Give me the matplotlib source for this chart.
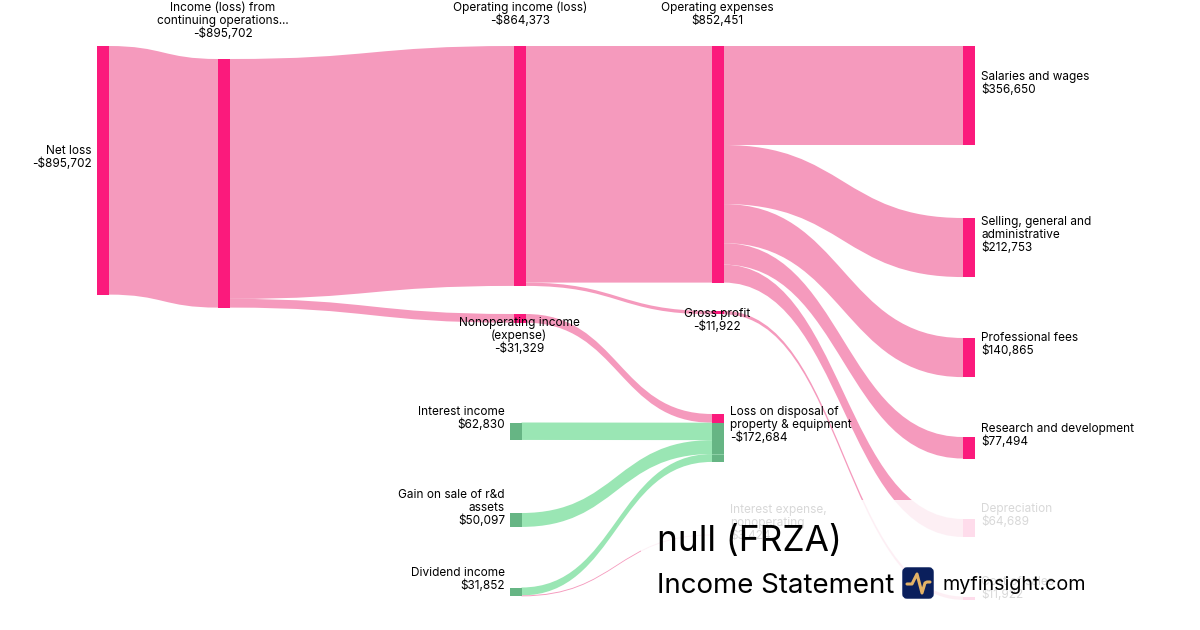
import matplotlib
matplotlib.use('Agg')
import matplotlib.pyplot as plt
from matplotlib.path import Path
from matplotlib.patches import PathPatch, Rectangle, FancyBboxPatch

plt.rcParams['font.family'] = ['Inter', 'DejaVu Sans']

# nodes
node_names = ['Net loss', 'Income (loss) from continuing operations...', 'Operating income (loss)',
              'Nonoperating income (expense)', 'Operating expenses', 'Gross profit',
              'Loss on disposal of property & equipment', 'Interest income', 'Gain on sale of r&d assets',
              'Dividend income', 'Salaries and wages', 'Selling, general and administrative',
              'Professional fees', 'Research and development', 'Depreciation',
              'Cost of sales', 'Interest expense, nonoperating']
node_values = [895702, 895702, 864373, 31329, 852451, 11922, 172684, 62830, 50097, 31852,
               356650, 212753, 140865, 77494, 64689, 11922, 3424]

# links: source index, target index, value
link_src = [0, 1, 1, 2, 2, 3, 7, 8, 9, 9, 4, 4, 4, 4, 4, 5]
link_dst = [1, 2, 3, 4, 5, 6, 6, 6, 6, 16, 10, 11, 12, 13, 14, 15]
link_val = [895702, 864373, 31329, 852451, 11922, 31329, 62830, 50097, 28428, 3424,
            356650, 212753, 140865, 77494, 64689, 11922]
link_is_income = [False, False, False, False, False, False, True, True, True, False,
                  False, False, False, False, False, False]

# layout
node_left = [97, 218, 514, 514, 712, 712, 712, 510, 510, 510, 963, 963, 963, 963, 963, 963, 712]
node_top = [46, 59, 46, 314, 46, 311, 414, 422.5, 513, 587.5, 46, 218, 338, 437, 519, 596.5, 534.5]
node_w = 11.5
px_per_dollar = 248.6 / 895702

PINK_NODE = '#fb1a7c'
PINK_LINK = '#f59abd'
GREEN_NODE = '#66b584'
GREEN_LINK = '#9ae6b4'
green_nodes = [7, 8, 9]

fig = plt.figure(figsize=(12, 6.3), dpi=100)
ax = fig.add_axes([0, 0, 1, 1])
ax.set_xlim(0, 1200)
ax.set_ylim(630, 0)
ax.axis('off')

out_used = [0.0] * len(node_names)
in_used = [0.0] * len(node_names)
for s, t, v, inc in zip(link_src, link_dst, link_val, link_is_income):
    w = v * px_per_dollar
    x0 = node_left[s] + node_w
    x1 = node_left[t]
    y0 = node_top[s] + out_used[s]
    y1 = node_top[t] + in_used[t]
    out_used[s] += w
    in_used[t] += w
    xm = (x0 + x1) / 2
    # ribbon with constant vertical thickness
    verts = [(x0, y0), (xm, y0), (xm, y1), (x1, y1), (x1, y1 + w),
             (xm, y1 + w), (xm, y0 + w), (x0, y0 + w), (x0, y0)]
    codes = [Path.MOVETO, Path.CURVE4, Path.CURVE4, Path.CURVE4, Path.LINETO,
             Path.CURVE4, Path.CURVE4, Path.CURVE4, Path.CLOSEPOLY]
    col = GREEN_LINK if inc else PINK_LINK
    ax.add_patch(PathPatch(Path(verts, codes), fc=col, ec='none', zorder=1))

for i, v in enumerate(node_values):
    col = GREEN_NODE if i in green_nodes else PINK_NODE
    h = v * px_per_dollar
    ax.add_patch(Rectangle((node_left[i], node_top[i]), node_w, h, fc=col, ec='none', zorder=2))

# the loss node takes the pink inflow first, then the green ones
pink_part = 31329 * px_per_dollar
ax.add_patch(Rectangle((node_left[6], node_top[6] + pink_part), node_w, in_used[6] - pink_part,
                       fc=GREEN_NODE, ec='none', zorder=2.5))
ax.add_patch(Rectangle((node_left[6], node_top[6] + in_used[6] - 28428 * px_per_dollar), node_w, 0.6,
                       fc='#8ccfa5', ec='none', zorder=2.6))

# label lines, anchor and alignment
labels = [
    (['Net loss', '-$895,702'], 92, 150.7, 'right'),
    (['Income (loss) from', 'continuing operations...', '-$895,702'], 223, 8.2, 'center'),
    (['Operating income (loss)', '-$864,373'], 520, 8.2, 'center'),
    (['Operating expenses', '$852,451'], 717, 8.2, 'center'),
    (['Nonoperating income', '(expense)', '-$31,329'], 519, 322.7, 'center'),
    (['Gross profit', '-$11,922'], 717, 314.2, 'center'),
    (['Loss on disposal of', 'property & equipment', '-$172,684'], 730, 412.2, 'left'),
    (['Interest income', '$62,830'], 505, 412.2, 'right'),
    (['Gain on sale of r&d', 'assets', '$50,097'], 505, 495.2, 'right'),
    (['Dividend income', '$31,852'], 505, 573.2, 'right'),
    (['Salaries and wages', '$356,650'], 981, 77.2, 'left'),
    (['Selling, general and', 'administrative', '$212,753'], 981, 222.2, 'left'),
    (['Professional fees', '$140,865'], 981, 338.2, 'left'),
    (['Research and development', '$77,494'], 981, 429.2, 'left'),
    (['Depreciation', '$64,689'], 981, 509.2, 'left'),
    (['Cost of sales', '$11,922'], 981, 581.7, 'left'),
    (['Interest expense,', 'nonoperating', '$3,424'], 730, 510.2, 'left'),
]
for lines, x, y, ha in labels:
    for k, line in enumerate(lines):
        ax.text(x, y + k * 13, line, fontsize=8.5, color='black', ha=ha, va='center', zorder=3)

# white panel behind the title
ax.add_patch(Rectangle((641, 500), 470, 110, fc='white', ec='none', alpha=0.85, zorder=4))

ax.text(657, 541.5, 'null (FRZA)', fontsize=25.4, color='black', va='center', zorder=5)
ax.text(657, 586, 'Income Statement', fontsize=19.9, color='black', va='center', zorder=5)
ax.text(942, 585, 'myfinsight.com', fontsize=14.2, color='black', va='center', zorder=5)

ax.add_patch(FancyBboxPatch((904, 569), 28, 28, boxstyle='round,pad=0,rounding_size=3',
                            fc='#0a1f5c', ec='#0a1f5c', lw=2.5, zorder=5))
logo_x = [907, 912, 917, 922, 925, 927, 930]
logo_y = [584, 584, 574, 593, 583, 582, 582]
ax.plot(logo_x, logo_y, color='#e3b266', lw=2.2, solid_joinstyle='round', solid_capstyle='round', zorder=6)

fig.savefig('out.png', dpi=100)
